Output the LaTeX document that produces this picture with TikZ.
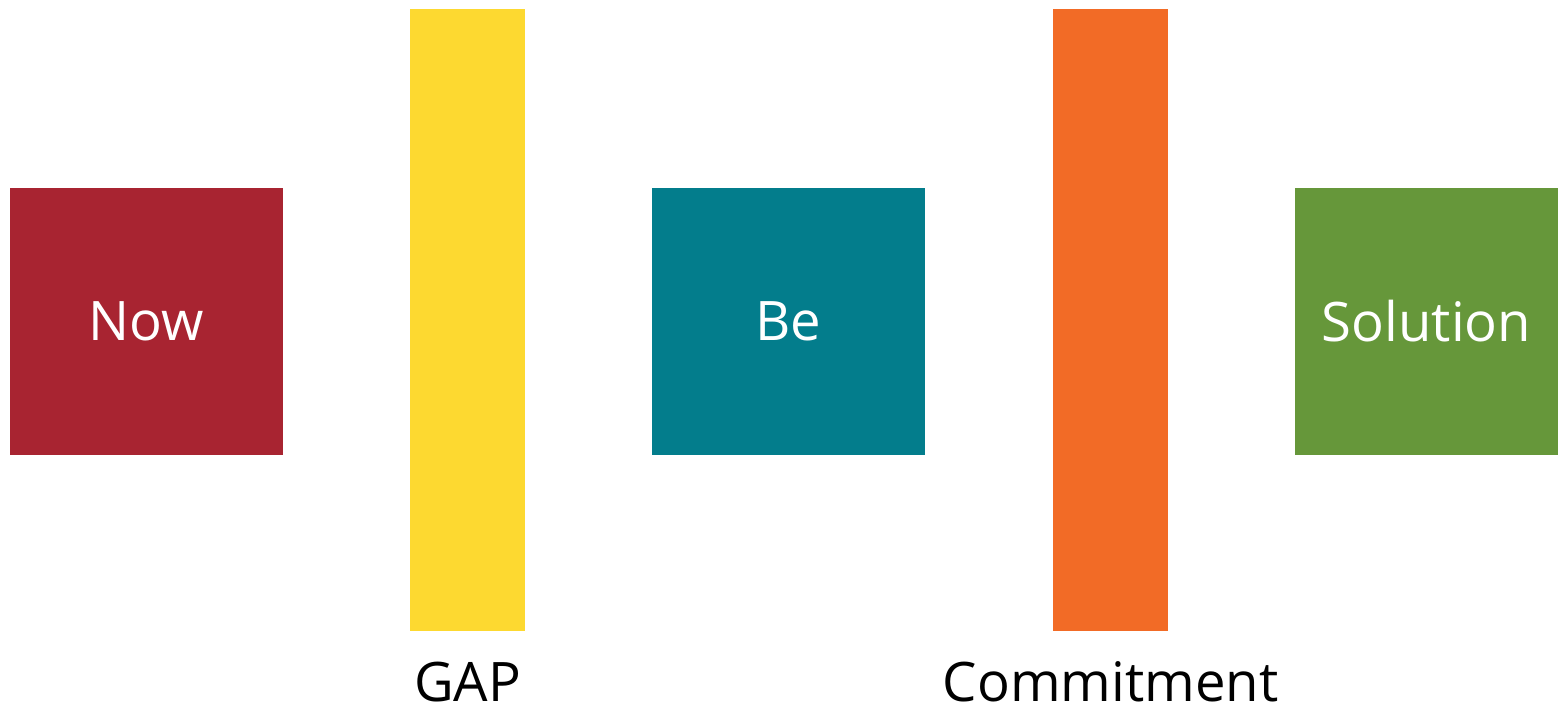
\documentclass[tikz,border=0pt]{standalone}
\usepackage{fontspec}
\setmainfont{Open Sans}
\definecolor{nowred}{RGB}{168,36,49}
\definecolor{gapyellow}{RGB}{253,217,48}
\definecolor{beteal}{RGB}{3,125,140}
\definecolor{commitorange}{RGB}{242,107,38}
\definecolor{solgreen}{RGB}{102,151,58}
\tikzset{
  block/.style={rectangle,inner sep=0pt,minimum width=2.73cm,minimum height=2.67cm,
    text=white,font=\fontsize{15.5}{18}\selectfont},
  bar/.style={rectangle,inner sep=0pt,minimum width=1.15cm,minimum height=6.22cm},
  barlabel/.style={inner sep=0pt,anchor=base,font=\fontsize{15.5}{18}\selectfont}
}
\begin{document}
\begin{tikzpicture}
\useasboundingbox (0,0) rectangle (15.58,7.10);
\node[block,fill=nowred] (now) at (1.465,3.885) {Now};
\node[bar,fill=gapyellow] (gap) at (4.675,3.90) {};
\node[block,fill=beteal] (be) at (7.885,3.885) {Be};
\node[bar,fill=commitorange] (commit) at (11.105,3.90) {};
\node[block,fill=solgreen,minimum width=2.63cm] (sol) at (14.265,3.885) {Solution};
\node[barlabel] (gaplabel) at (4.675,0.08) {GAP};
\node[barlabel] (commitlabel) at (11.105,0.08) {Commitment};
\end{tikzpicture}
\end{document}
